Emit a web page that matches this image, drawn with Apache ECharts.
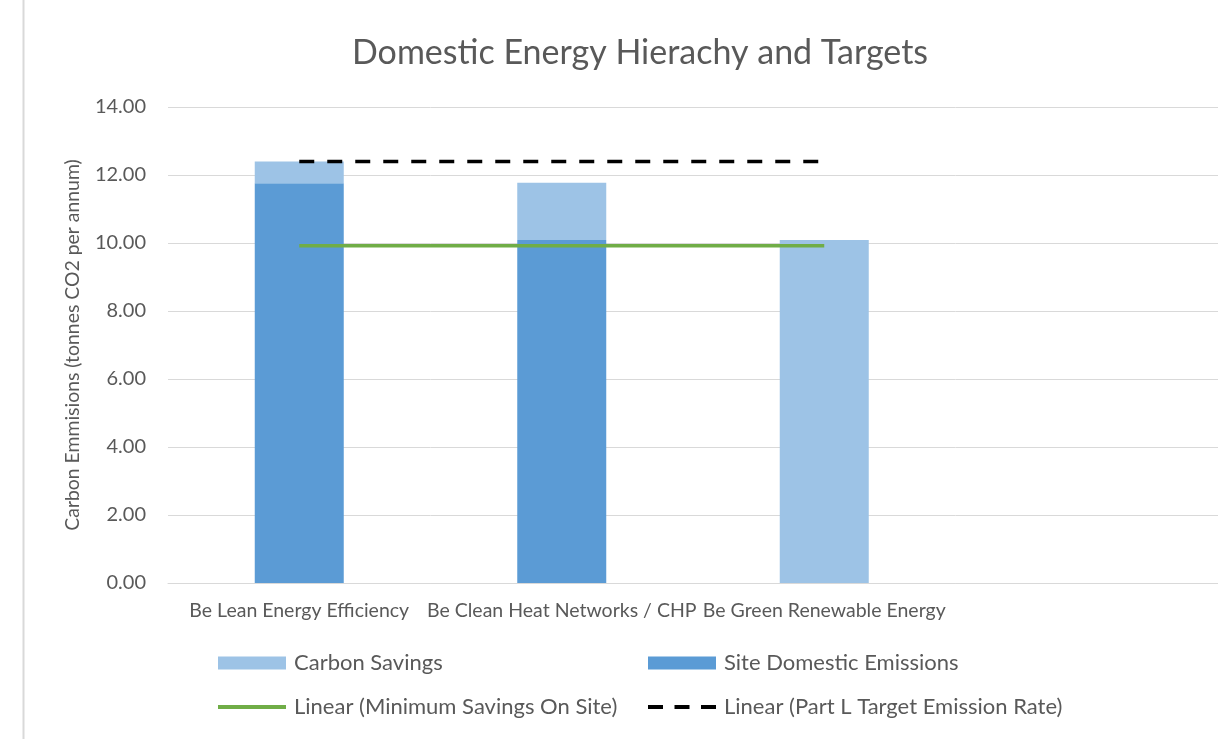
<!DOCTYPE html>
<html>
<head>
<meta charset="utf-8">
<script src="https://cdn.jsdelivr.net/npm/echarts@6/dist/echarts.min.js"></script>
<style>
  html, body { margin: 0; padding: 0; background: #fff; }
  #chart { width: 1218px; height: 739px; }
</style>
</head>
<body>
<div id="chart"></div>
<script>
// data
const categories = ['Be Lean Energy Efficiency', 'Be Clean Heat Networks / CHP', 'Be Green Renewable Energy', '']
const siteEmissions = [11.76, 10.09, 0, null]
const carbonSavings = [0.64, 1.68, 10.09, null]
const minSavingsOnSite = [9.92, 9.92, 9.92, null]
const partLTarget = [12.40, 12.40, 12.40, null]
const yTicks = { min: 0, max: 14, interval: 2 }

const font = 'Lato, "Open Sans", sans-serif'
const grey = '#595959'

const myChart = echarts.init(document.getElementById('chart'))

const legendBase = {
  orient: 'horizontal',
  itemWidth: 68,
  itemHeight: 13,
  itemGap: 10,
  textStyle: { color: grey, fontSize: 22, fontFamily: font, padding: [0, 0, 0, 3] }
}

// key icons for the two trend lines, drawn as flat strips
const solidIcon = 'path://M0,0 h68 v4 h-68 Z'
const dashIcon = 'path://M0,0 h15 v4 h-15 Z M26.5,0 h15 v4 h-15 Z M53,0 h15 v4 h-15 Z'

const options = {
  backgroundColor: '#fff',
  animation: false,
  title: {
    text: 'Domestic Energy Hierachy and Targets',
    left: 347,
    top: 31,
    textStyle: { color: grey, fontSize: 34, fontWeight: 'normal', fontFamily: font }
  },
  legend: [
    { ...legendBase, left: 213, top: 647, icon: 'rect', data: ['Carbon Savings'] },
    { ...legendBase, left: 643, top: 647, icon: 'rect', data: ['Site Domestic Emissions'] },
    {
      ...legendBase, left: 213, top: 691, itemHeight: 4,
      data: [{ name: 'Linear (Minimum Savings On Site)', icon: solidIcon }]
    },
    {
      ...legendBase, left: 643, top: 691, itemHeight: 4,
      data: [{ name: 'Linear (Part L Target Emission Rate)', icon: dashIcon }]
    }
  ],
  grid: {
    left: 168,
    top: 107,
    bottom: 156,
    width: 1056,
    containLabel: false
  },
  xAxis: {
    type: 'category',
    data: categories,
    axisLine: { lineStyle: { color: '#D9D9D9', width: 1 } },
    axisTick: { show: false },
    axisLabel: { color: grey, fontSize: 19.5, fontFamily: font, margin: 18, interval: 0 }
  },
  yAxis: {
    type: 'value',
    min: yTicks.min,
    max: yTicks.max,
    interval: yTicks.interval,
    name: 'Carbon Emmisions (tonnes CO2 per annum)',
    nameLocation: 'middle',
    nameGap: 86,
    nameTextStyle: { color: grey, fontSize: 19.4, fontFamily: font },
    axisLine: { show: false },
    axisTick: { show: false },
    axisLabel: {
      color: grey, fontSize: 20, fontFamily: font, margin: 22,
      formatter: v => v.toFixed(2)
    },
    splitLine: { lineStyle: { color: '#D9D9D9', width: 1 } }
  },
  series: [
    {
      name: 'Site Domestic Emissions',
      type: 'bar',
      stack: 'total',
      barWidth: 89,
      itemStyle: { color: '#5B9BD5' },
      data: siteEmissions
    },
    {
      name: 'Carbon Savings',
      type: 'bar',
      stack: 'total',
      barWidth: 89,
      itemStyle: { color: '#9DC3E6' },
      data: carbonSavings
    },
    {
      name: 'Linear (Minimum Savings On Site)',
      type: 'line',
      symbol: 'none',
      lineStyle: { color: '#70AD47', width: 3.5 },
      itemStyle: { color: '#70AD47' },
      data: minSavingsOnSite
    },
    {
      name: 'Linear (Part L Target Emission Rate)',
      type: 'line',
      symbol: 'none',
      lineStyle: { color: '#000', width: 3.5, type: [15, 13] },
      itemStyle: { color: '#000' },
      data: partLTarget
    }
  ],
  graphic: [
    {
      type: 'line',
      shape: { x1: 23.5, y1: 0, x2: 23.5, y2: 739 },
      style: { stroke: '#D9D9D9', lineWidth: 2 }
    }
  ]
}

myChart.setOption(options)
</script>
</body>
</html>
